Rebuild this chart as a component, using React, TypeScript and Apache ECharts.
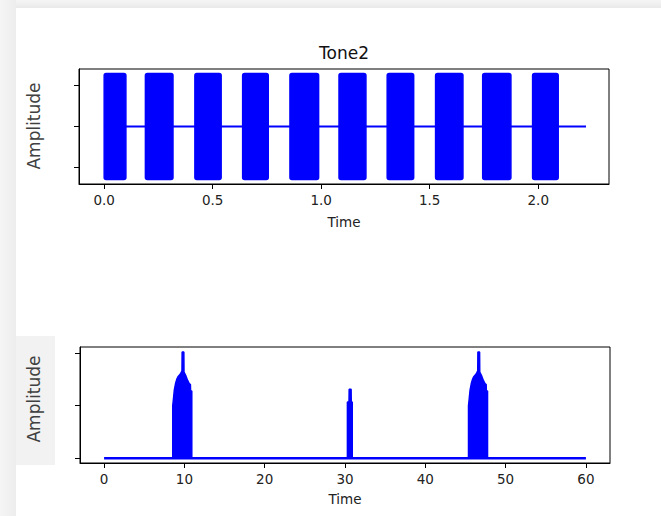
import React, { useEffect, useRef } from "react";
import * as echarts from "echarts";

// ---- Top panel: "Tone2" tone bursts (envelope of each burst) ----
const toneStarts = [0.0, 0.19, 0.418, 0.638, 0.856, 1.082, 1.304, 1.527, 1.744, 1.974];
const toneEnds = [0.1, 0.317, 0.539, 0.756, 0.988, 1.206, 1.426, 1.653, 1.874, 2.092];
const toneAmplitude = 1.3;
const toneSignalStart = 0;
const toneSignalEnd = 2.22;
const toneTimeTicks = [0, 0.5, 1.0, 1.5, 2.0];
const toneAmpTicks = [-1, 0, 1];

// ---- Bottom panel: spectrum peaks (outline of each peak) ----
const spectrumStart = 0;
const spectrumEnd = 60;
const spectrumTimeTicks = [0, 10, 20, 30, 40, 50, 60];
const spectrumAmpTicks = [0, 1, 2];

const peak1Freq = [8.55, 8.55, 8.62, 8.75, 8.9, 9.05, 9.2, 9.5, 9.7, 9.72, 9.93, 9.95, 10.2, 10.4, 10.6, 10.75, 10.77, 10.92, 10.92];
const peak1Amp = [0, 1.0, 1.1, 1.3, 1.42, 1.5, 1.55, 1.6, 1.66, 2.02, 2.02, 1.64, 1.56, 1.48, 1.42, 1.4, 1.28, 1.28, 0];

const peak2Freq = [30.3, 30.3, 30.5, 30.52, 30.76, 30.78, 30.9, 30.9];
const peak2Amp = [0, 1.07, 1.07, 1.31, 1.31, 1.07, 1.07, 0];

const peak3Freq = [45.38, 45.38, 45.45, 45.58, 45.73, 45.88, 46.03, 46.33, 46.53, 46.55, 46.76, 46.78, 47.03, 47.23, 47.43, 47.58, 47.6, 47.75, 47.75];
const peak3Amp = [0, 1.0, 1.1, 1.3, 1.42, 1.5, 1.55, 1.6, 1.66, 2.02, 2.02, 1.64, 1.56, 1.48, 1.42, 1.4, 1.28, 1.28, 0];

const BLUE = "#0000ff";
const FONT = "DejaVu Sans";

function zip(xs: number[], ys: number[]) {
  return xs.map((x, i) => [x, ys[i]]);
}

export default function App() {
  const ref = useRef<HTMLDivElement>(null);

  useEffect(() => {
    const chart = echarts.init(ref.current!, null, { renderer: "svg" });

    const tickLabelStyle = { fontSize: 13.5, color: "#222", fontFamily: FONT };

    const xAxisCommon = (min: number, max: number, ticks: number[], fmt: (v: number) => string, gridIndex: number, nameGap: number) => ({
      type: "value",
      gridIndex,
      min,
      max,
      axisLine: { show: true, onZero: false, lineStyle: { color: "#000", width: 1 } },
      axisTick: { show: true, length: 5, inside: false, customValues: ticks, lineStyle: { color: "#000", width: 1 } },
      axisLabel: { show: true, customValues: ticks, formatter: fmt, margin: 9, ...tickLabelStyle },
      splitLine: { show: false },
      name: "Time",
      nameLocation: "middle",
      nameGap,
      nameTextStyle: { fontSize: 13.5, color: "#222", fontFamily: FONT },
    });

    const yAxisCommon = (min: number, max: number, ticks: number[], gridIndex: number) => ({
      type: "value",
      gridIndex,
      min,
      max,
      axisLine: { show: true, onZero: false, lineStyle: { color: "#000", width: 1 } },
      axisTick: { show: true, length: 5, inside: false, customValues: ticks, lineStyle: { color: "#000", width: 1 } },
      axisLabel: { show: false },
      splitLine: { show: false },
    });

    const peakSeries = (freq: number[], amp: number[]) => ({
      type: "line",
      xAxisIndex: 1,
      yAxisIndex: 1,
      data: zip(freq, amp),
      showSymbol: false,
      symbol: "none",
      lineStyle: { color: BLUE, width: 1.5 },
      areaStyle: { color: BLUE, opacity: 1 },
      silent: true,
      z: 3,
    });

    const option: any = {
      animation: false,
      backgroundColor: "#ffffff",
      grid: [
        { left: 79, top: 69, width: 530, height: 115, show: true, borderColor: "#000", borderWidth: 1, backgroundColor: "#fff" },
        { left: 80, top: 347, width: 530, height: 116, show: true, borderColor: "#000", borderWidth: 1, backgroundColor: "#fff" },
      ],
      xAxis: [
        xAxisCommon(-0.116, 2.326, toneTimeTicks, (v: number) => v.toFixed(1), 0, 31),
        xAxisCommon(-3, 63, spectrumTimeTicks, (v: number) => String(Math.round(v)), 1, 29),
      ],
      yAxis: [
        yAxisCommon(-1.41, 1.41, toneAmpTicks, 0),
        yAxisCommon(-0.09, 2.115, spectrumAmpTicks, 1),
      ],
      series: [
        {
          type: "line",
          xAxisIndex: 0,
          yAxisIndex: 0,
          data: [[toneSignalStart, 0], [toneSignalEnd, 0]],
          showSymbol: false,
          symbol: "none",
          lineStyle: { color: BLUE, width: 2 },
          silent: true,
        },
        {
          type: "custom",
          xAxisIndex: 0,
          yAxisIndex: 0,
          data: toneStarts.map((s, i) => [s, toneEnds[i], toneAmplitude]),
          silent: true,
          z: 3,
          renderItem: (_params: any, api: any) => {
            const p1 = api.coord([api.value(0), api.value(2)]);
            const p2 = api.coord([api.value(1), -api.value(2)]);
            return {
              type: "rect",
              shape: { x: p1[0], y: p1[1], width: p2[0] - p1[0], height: p2[1] - p1[1], r: 2 },
              style: { fill: BLUE, stroke: BLUE, lineWidth: 1.5 },
            };
          },
        },
        {
          type: "line",
          xAxisIndex: 1,
          yAxisIndex: 1,
          data: [[spectrumStart, 0], [spectrumEnd, 0]],
          showSymbol: false,
          symbol: "none",
          lineStyle: { color: BLUE, width: 2.4 },
          silent: true,
        },
        peakSeries(peak1Freq, peak1Amp),
        peakSeries(peak2Freq, peak2Amp),
        peakSeries(peak3Freq, peak3Amp),
      ],
      graphic: [
        {
          type: "rect",
          shape: { x: 0, y: 0, width: 661, height: 8 },
          style: {
            fill: new echarts.graphic.LinearGradient(0, 0, 0, 1, [
              { offset: 0, color: "#f5f5f5" },
              { offset: 1, color: "#e9e9e9" },
            ]),
          },
          silent: true,
        },
        {
          type: "rect",
          shape: { x: 0, y: 0, width: 16, height: 516 },
          style: {
            fill: new echarts.graphic.LinearGradient(0, 0, 1, 0, [
              { offset: 0, color: "#f5f5f5" },
              { offset: 1, color: "#ededed" },
            ]),
          },
          silent: true,
        },
        {
          type: "rect",
          shape: { x: 16, y: 336, width: 39, height: 129 },
          style: { fill: "#f2f2f2" },
          silent: true,
        },
        {
          type: "text",
          x: 344,
          y: 53,
          style: { text: "Tone2", fontSize: 17, fontFamily: FONT, fill: "#111", align: "center", verticalAlign: "middle" },
          silent: true,
        },
        {
          type: "text",
          x: 33.5,
          y: 126,
          rotation: Math.PI / 2,
          style: { text: "Amplitude", fontSize: 17, fontFamily: FONT, fill: "#404040", align: "center", verticalAlign: "middle" },
          silent: true,
        },
        {
          type: "text",
          x: 33.5,
          y: 399,
          rotation: Math.PI / 2,
          style: { text: "Amplitude", fontSize: 17, fontFamily: FONT, fill: "#404040", align: "center", verticalAlign: "middle" },
          silent: true,
        },
      ],
    };

    chart.setOption(option);
    return () => chart.dispose();
  }, []);

  return <div ref={ref} style={{ position: "fixed", left: 0, top: 0, width: 661, height: 516 }} />;
}
